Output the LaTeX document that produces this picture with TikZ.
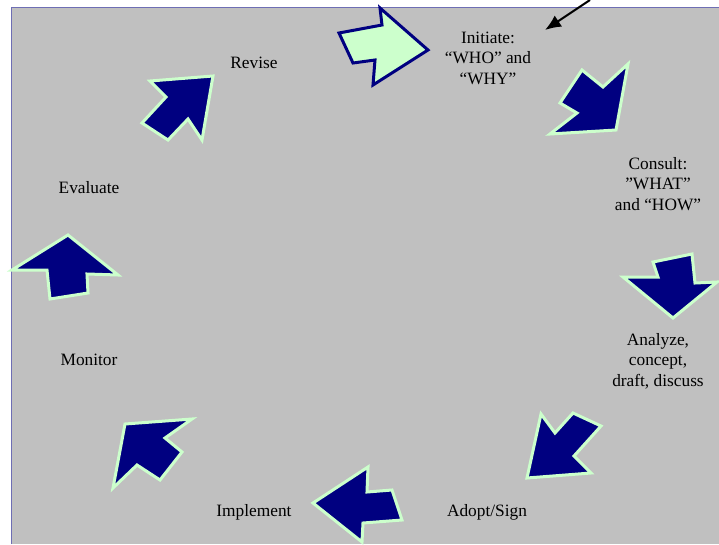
\documentclass[tikz,border=0pt]{standalone}
\usepackage{fontspec}
\setmainfont{Liberation Serif}
\usetikzlibrary{arrows.meta}

\tikzset{every picture/.style={line width=0.75pt}}
\tikzset{
  darkarrow/.style={draw={rgb, 255:red, 204; green, 255; blue, 204 }, line width=2.25, fill={rgb, 255:red, 0; green, 0; blue, 128 }, fill opacity=1},
  lightarrow/.style={draw={rgb, 255:red, 0; green, 0; blue, 128 }, line width=2.25, fill={rgb, 255:red, 204; green, 255; blue, 204 }, fill opacity=1},
  steplabel/.style={align=center, font=\fontsize{13}{15.4}\selectfont}
}

\begin{document}
\begin{tikzpicture}[x=0.75pt,y=0.75pt,yscale=-1,xscale=1]
\useasboundingbox (0,0) rectangle (719,544);

%Shape: Rectangle [id:bg]
\fill [color={rgb, 255:red, 192; green, 192; blue, 192 }] (11,7) rectangle (719,544);
%Straight Lines [id:bgedge]
\draw [color={rgb, 255:red, 110; green, 110; blue, 180 }, line width=0.75] (11,544) -- (11,7) -- (719,7) ;

%Shape: Right Arrow [id:initiate]
\draw [lightarrow] (339,33) -- (382,25) -- (380,8) -- (428,50) -- (373,85) -- (375,60) -- (353,63) -- cycle ;
%Shape: Right Arrow [id:consult]
\draw [darkarrow] (582,70) -- (603,87) -- (628,64) -- (616,130) -- (550,134) -- (577,113) -- (560,103) -- cycle ;
%Shape: Right Arrow [id:analyze]
\draw [darkarrow] (653,262) -- (692,254) -- (695,283) -- (717,282) -- (673,318) -- (623,277) -- (658,277) -- cycle ;
%Shape: Right Arrow [id:adopt]
\draw [darkarrow] (527,478) -- (541,414) -- (555,433) -- (573,413) -- (601,426) -- (574,456) -- (591,473) -- cycle ;
%Shape: Right Arrow [id:implement]
\draw [darkarrow] (313,503) -- (368,467) -- (367,492) -- (392,490) -- (402,520) -- (363,523) -- (362,542) -- cycle ;
%Shape: Right Arrow [id:monitor]
\draw [darkarrow] (125,424) -- (192,419) -- (165,438) -- (182,452) -- (160,480) -- (137,465) -- (113,488) -- cycle ;
%Shape: Right Arrow [id:evaluate]
\draw [darkarrow] (68,235) -- (118,275) -- (87,274) -- (88,293) -- (50,299) -- (47,270) -- (12,270) -- cycle ;
%Shape: Right Arrow [id:revise]
\draw [darkarrow] (150,81) -- (213,76) -- (202,140) -- (188,119) -- (168,140) -- (142,123) -- (166,97) -- cycle ;

%Straight Lines [id:pointer]
\coordinate (ptrfrom) at (590,0);
\coordinate (ptrto) at (545,30);
\draw [line width=1.5, -{Latex[length=12pt,width=10pt]}] (ptrfrom) -- (ptrto) ;

% Text Node
\draw (488,58) node [steplabel] (initiatetxt) {Initiate:\\“WHO” and\\“WHY”};
% Text Node
\draw (658,184) node [steplabel] (consulttxt) {Consult:\\”WHAT”\\and “HOW”};
% Text Node
\draw (658,361) node [steplabel] (analyzetxt) {Analyze,\\concept,\\draft, discuss};
% Text Node
\draw (487,512) node [steplabel] (adopttxt) {Adopt/Sign};
% Text Node
\draw (254,512) node [steplabel] (implementtxt) {Implement};
% Text Node
\draw (89,360) node [steplabel] (monitortxt) {Monitor};
% Text Node
\draw (89,188) node [steplabel] (evaluatetxt) {Evaluate};
% Text Node
\draw (254,63) node [steplabel] (revisetxt) {Revise};

\end{tikzpicture}
\end{document}
